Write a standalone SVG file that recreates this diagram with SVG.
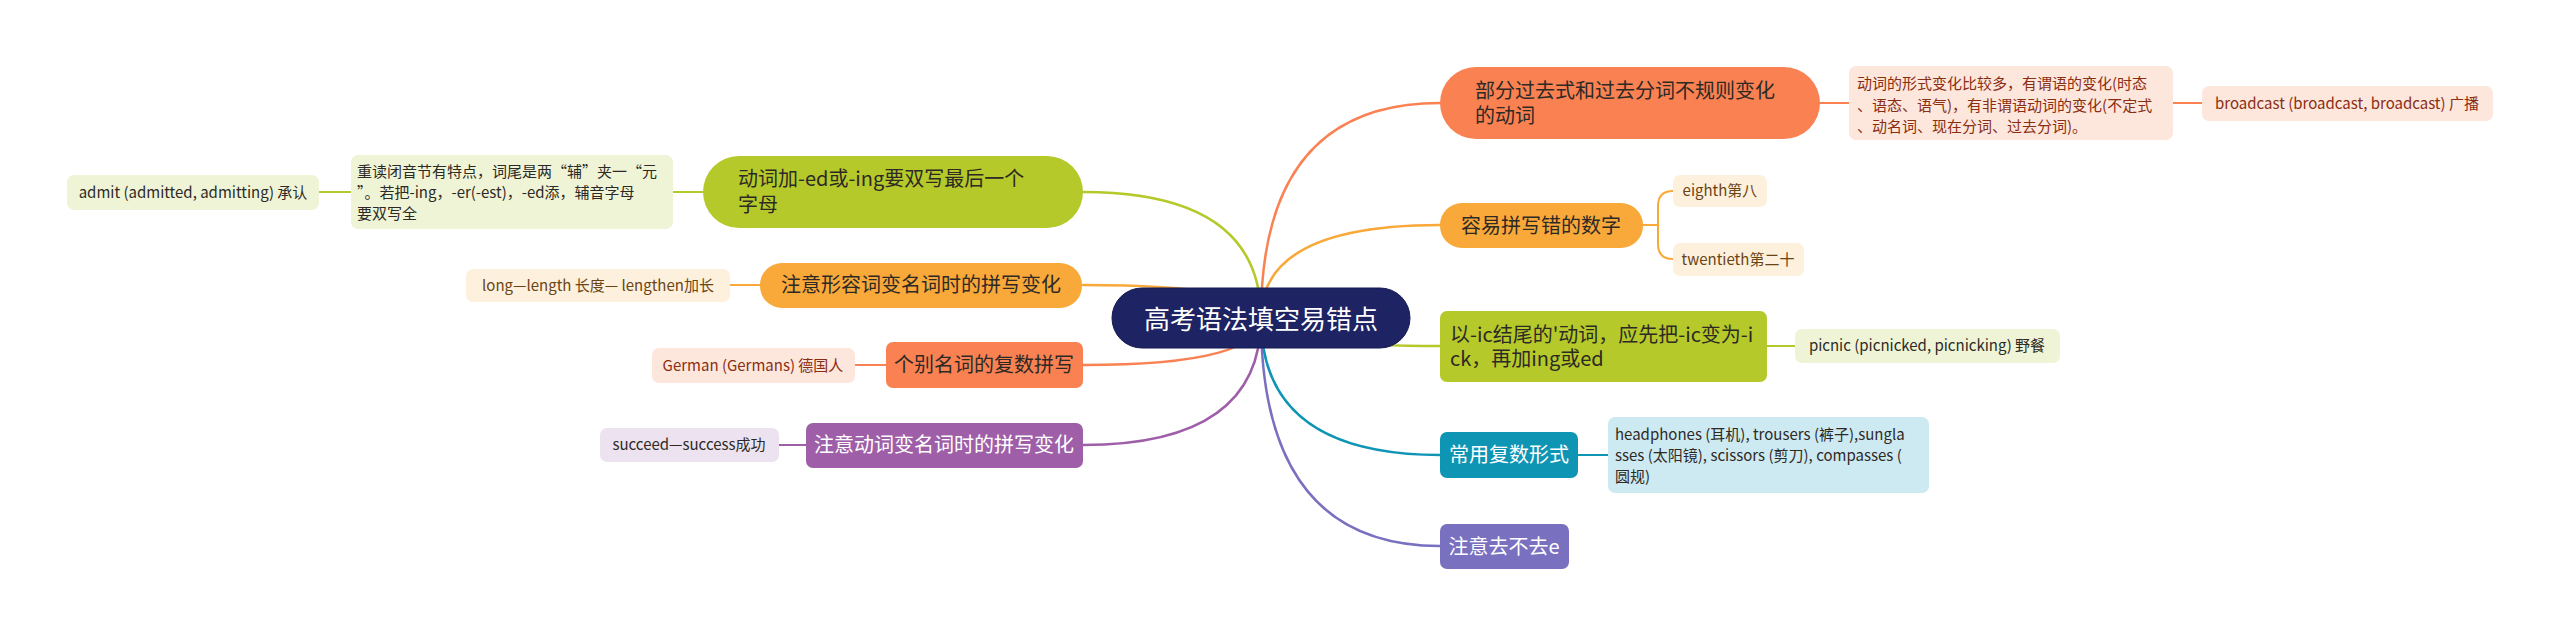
<svg xmlns="http://www.w3.org/2000/svg" width="2560" height="636" viewBox="0 0 2560 636">
<style>
text{font-family:"Noto Sans CJK SC","Noto Sans",sans-serif;}
.c{fill:none;stroke-width:2.5;stroke-linecap:round}
.s{fill:none;stroke-width:2;stroke-linecap:round}
.t20{font-size:20px}
.t15{font-size:15px}
.mid{text-anchor:middle}
.dark{fill:#2d2a26}
.wh{fill:#ffffff}
</style>
<rect width="2560" height="636" fill="#ffffff"/>
<g id="connectors">
<path class="c" stroke="#f98152" d="M1261 318 Q1261 103 1440 103"/>
<path class="c" stroke="#f9a83a" d="M1261 318 Q1261 225 1440 225"/>
<path class="c" stroke="#b5c92a" d="M1261 318 Q1261 346 1440 346"/>
<path class="c" stroke="#0f95b4" d="M1261 318 Q1261 455 1440 455"/>
<path class="c" stroke="#7a70c0" d="M1261 318 Q1261 546 1440 546"/>
<path class="c" stroke="#b5c92a" d="M1261 318 Q1261 192 1083 192"/>
<path class="c" stroke="#f9a83a" d="M1261 318 Q1261 285 1083 285"/>
<path class="c" stroke="#f98152" d="M1261 318 Q1261 365 1083 365"/>
<path class="c" stroke="#9e5fa8" d="M1261 318 Q1261 445 1083 445"/>
<path class="s" stroke="#f98152" d="M1820 103 H1849 M2173 103 H2202"/>
<path class="s" stroke="#f9a83a" d="M1643 225 H1658 M1673 191 Q1658 191 1658 206 V244 Q1658 259 1673 259"/>
<path class="s" stroke="#b5c92a" d="M1767 346 H1795"/>
<path class="s" stroke="#0f95b4" d="M1578 455 H1608"/>
<path class="s" stroke="#b5c92a" d="M703 192 H673 M351 192 H319"/>
<path class="s" stroke="#f9a83a" d="M760 285 H730"/>
<path class="s" stroke="#f98152" d="M886 365 H855"/>
<path class="s" stroke="#9e5fa8" d="M806 445 H779"/>
</g>
<g id="center">
<rect x="1112" y="288" width="298" height="60" rx="30" fill="#1d2363" stroke="#141a52" stroke-width="1"/>
<text x="1261" y="329" class="mid wh" style="font-size:26px">高考语法填空易错点</text>
</g>
<g id="r1">
<rect x="1440" y="67" width="380" height="72" rx="36" fill="#f98152"/>
<text x="1475" y="98" class="t20 dark">部分过去式和过去分词不规则变化</text>
<text x="1475" y="123" class="t20 dark">的动词</text>
</g>
<g id="r1a">
<rect x="1849" y="66" width="324" height="74" rx="7" fill="#fde6dc"/>
<text x="1857" y="89" class="t15" fill="#8a2e12">动词的形式变化比较多，有谓语的变化(时态</text>
<text x="1857" y="111" class="t15" fill="#8a2e12">、语态、语气)，有非谓语动词的变化(不定式</text>
<text x="1857" y="132" class="t15" fill="#8a2e12">、动名词、现在分词、过去分词)。</text>
</g>
<g id="r1b">
<rect x="2202" y="86" width="291" height="35" rx="7" fill="#fde6dc"/>
<text x="2347" y="109" class="t15 mid" fill="#8a2e12">broadcast (broadcast, broadcast) 广播</text>
</g>
<g id="r2">
<rect x="1440" y="203" width="203" height="45" rx="22" fill="#f9a83a"/>
<text x="1541" y="233" class="t20 mid dark">容易拼写错的数字</text>
</g>
<g id="r2a">
<rect x="1673" y="175" width="94" height="32" rx="7" fill="#fdf0dc"/>
<text x="1720" y="196" class="t15 mid" fill="#6b4414">eighth第八</text>
</g>
<g id="r2b">
<rect x="1673" y="243" width="131" height="33" rx="7" fill="#fdf0dc"/>
<text x="1738" y="265" class="t15 mid" fill="#6b4414">twentieth第二十</text>
</g>
<g id="r3">
<rect x="1440" y="311" width="327" height="71" rx="7" fill="#b5c92a"/>
<text x="1450" y="342" class="t20 dark">以-ic结尾的'动词，应先把-ic变为-i</text>
<text x="1450" y="366" class="t20 dark">ck，再加ing或ed</text>
</g>
<g id="r3a">
<rect x="1795" y="329" width="265" height="34" rx="7" fill="#f0f4d6"/>
<text x="1927" y="351" class="t15 mid dark">picnic (picnicked, picnicking) 野餐</text>
</g>
<g id="r4">
<rect x="1440" y="432" width="138" height="46" rx="7" fill="#0f95b4"/>
<text x="1509" y="462" class="t20 mid wh">常用复数形式</text>
</g>
<g id="r4a">
<rect x="1608" y="417" width="321" height="76" rx="7" fill="#cde9f1"/>
<text x="1615" y="440" class="t15 dark">headphones (耳机), trousers (裤子),sungla</text>
<text x="1615" y="461" class="t15 dark">sses (太阳镜), scissors (剪刀), compasses (</text>
<text x="1615" y="482" class="t15 dark">圆规)</text>
</g>
<g id="r5">
<rect x="1440" y="524" width="129" height="45" rx="7" fill="#7a70c0"/>
<text x="1504" y="554" class="t20 mid wh">注意去不去e</text>
</g>
<g id="l1">
<rect x="703" y="156" width="380" height="72" rx="36" fill="#b5c92a"/>
<text x="738" y="186" class="t20 dark">动词加-ed或-ing要双写最后一个</text>
<text x="738" y="212" class="t20 dark">字母</text>
</g>
<g id="l1a">
<rect x="351" y="155" width="322" height="74" rx="7" fill="#f0f4d6"/>
<text x="357" y="177" class="t15 dark">重读闭音节有特点，词尾是两“辅”夹一“元</text>
<text x="357" y="198" class="t15 dark">”。若把-ing，-er(-est)，-ed添，辅音字母</text>
<text x="357" y="219" class="t15 dark">要双写全</text>
</g>
<g id="l1b">
<rect x="67" y="175" width="252" height="35" rx="7" fill="#f0f4d6"/>
<text x="193" y="198" class="t15 mid dark">admit (admitted, admitting) 承认</text>
</g>
<g id="l2">
<rect x="760" y="263" width="322" height="45" rx="22" fill="#f9a83a"/>
<text x="921" y="292" class="t20 mid dark">注意形容词变名词时的拼写变化</text>
</g>
<g id="l2a">
<rect x="466" y="269" width="264" height="33" rx="7" fill="#fdf0dc"/>
<text x="598" y="291" class="t15 mid" fill="#6b4414">long—length 长度— lengthen加长</text>
</g>
<g id="l3">
<rect x="886" y="342" width="197" height="46" rx="7" fill="#f98152"/>
<text x="984" y="372" class="t20 mid dark">个别名词的复数拼写</text>
</g>
<g id="l3a">
<rect x="652" y="348" width="203" height="35" rx="7" fill="#fde6dc"/>
<text x="753" y="371" class="t15 mid" fill="#8a2e12">German (Germans) 德国人</text>
</g>
<g id="l4">
<rect x="806" y="423" width="277" height="45" rx="7" fill="#9e5fa8"/>
<text x="944" y="452" class="t20 mid wh">注意动词变名词时的拼写变化</text>
</g>
<g id="l4a">
<rect x="600" y="428" width="179" height="34" rx="7" fill="#ede2f0"/>
<text x="689" y="450" class="t15 mid dark">succeed—success成功</text>
</g>
</svg>
